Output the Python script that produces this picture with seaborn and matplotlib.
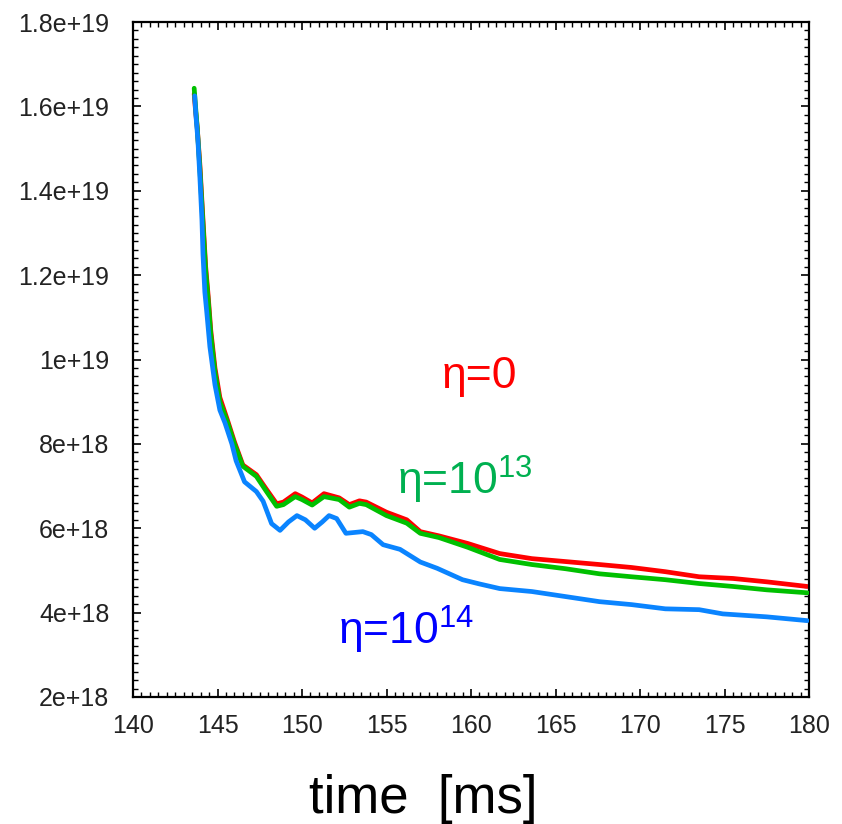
import numpy as np
import pandas as pd
import matplotlib
matplotlib.use("Agg")
import matplotlib.pyplot as plt
import seaborn as sns
from matplotlib.ticker import MultipleLocator

# ---- data (time in ms, density in units of 1e18) ----
t_blue = [143.65, 143.72, 143.84, 143.96, 144.08, 144.14, 144.25, 144.37, 144.55, 144.85,
          145.14, 145.44, 145.85, 146.1, 146.6, 147.3, 147.7, 148.2, 148.7, 149.2,
          149.7, 150.2, 150.75, 151.2, 151.6, 152.05, 152.6, 153.1, 153.6, 154.1,
          154.8, 155.8, 157.0, 158.0, 159.5, 160.5, 161.7, 163.6, 165.6, 167.6,
          169.5, 171.5, 173.5, 174.9, 177.5, 179.9]
v_blue = [16.25, 15.8, 15.2, 14.3, 13.3, 12.5, 11.6, 11.1, 10.3, 9.4,
          8.8, 8.5, 8.0, 7.6, 7.1, 6.87, 6.64, 6.11, 5.95, 6.15,
          6.3, 6.2, 6.0, 6.15, 6.3, 6.23, 5.88, 5.9, 5.92, 5.85,
          5.61, 5.5, 5.2, 5.05, 4.78, 4.68, 4.57, 4.5, 4.38, 4.26,
          4.19, 4.09, 4.07, 3.97, 3.9, 3.81]

t_rg = [143.62, 143.7, 143.8, 143.96, 144.1, 144.2, 144.3, 144.45, 144.6, 144.85,
        145.14, 145.6, 146.0, 146.5, 147.3, 147.9, 148.5, 148.9, 149.6, 150.0,
        150.6, 151.3, 152.2, 152.8, 153.4, 153.8, 155.0, 156.2, 157.0, 158.1,
        159.8, 161.7, 163.6, 165.6, 167.6, 169.5, 171.5, 173.5, 175.5, 177.5, 179.9]
v_green = [16.43, 16.0, 15.5, 14.5, 13.5, 12.8, 12.1, 11.4, 10.6, 9.7,
           9.0, 8.5, 8.0, 7.47, 7.23, 6.87, 6.52, 6.56, 6.75, 6.68,
           6.55, 6.75, 6.68, 6.5, 6.59, 6.56, 6.3, 6.12, 5.88, 5.78,
           5.55, 5.26, 5.14, 5.04, 4.92, 4.85, 4.78, 4.69, 4.62, 4.54, 4.47]
v_red = [16.3, 15.9, 15.5, 14.6, 13.6, 12.9, 12.2, 11.5, 10.7, 9.8,
         9.1, 8.55, 8.05, 7.5, 7.27, 6.92, 6.58, 6.62, 6.82, 6.74,
         6.6, 6.82, 6.72, 6.56, 6.65, 6.62, 6.38, 6.2, 5.92, 5.82,
         5.64, 5.4, 5.28, 5.21, 5.14, 5.07, 4.97, 4.85, 4.81, 4.73, 4.62]

x_ticks = [140, 145, 150, 155, 160, 165, 170, 175, 180]
y_ticks = [2, 4, 6, 8, 10, 12, 14, 16, 18]
y_labels = ["2e+18", "4e+18", "6e+18", "8e+18", "1e+19", "1.2e+19", "1.4e+19", "1.6e+19", "1.8e+19"]

scale = 1e18

sns.set_theme(style="white")
plt.rcParams['font.family'] = ['Liberation Sans', 'DejaVu Sans']
plt.rcParams['mathtext.fontset'] = 'custom'
plt.rcParams['mathtext.rm'] = 'Liberation Sans'
plt.rcParams['mathtext.it'] = 'Liberation Sans'
plt.rcParams['mathtext.default'] = 'regular'

fig = plt.figure(figsize=(8.42, 8.24), dpi=100)
ax = fig.add_axes([133/842, 1 - 697/824, (809-133)/842, (697-22)/824])

df_red = pd.DataFrame({"t": t_rg, "n": np.array(v_red) * scale})
df_green = pd.DataFrame({"t": t_rg, "n": np.array(v_green) * scale})
df_blue = pd.DataFrame({"t": t_blue, "n": np.array(v_blue) * scale})

sns.lineplot(data=df_red, x="t", y="n", ax=ax, color="#ff0000", lw=3.4, zorder=2)
sns.lineplot(data=df_green, x="t", y="n", ax=ax, color="#00c000", lw=3.4, zorder=3)
sns.lineplot(data=df_blue, x="t", y="n", ax=ax, color="#0a84ff", lw=3.4, zorder=4)

ax.set_xlim(140, 180)
ax.set_ylim(2e18, 1.8e19)
ax.set_xticks(x_ticks)
ax.set_xticklabels([str(v) for v in x_ticks], fontsize=18, color='#222222')
ax.set_yticks([v * scale for v in y_ticks])
ax.set_yticklabels(y_labels, fontsize=18, color='#222222')
ax.xaxis.set_minor_locator(MultipleLocator(0.5))
ax.yaxis.set_minor_locator(MultipleLocator(2e17))

ax.tick_params(which='both', direction='in', top=True, right=True, left=True, bottom=True,
               color='black')
ax.tick_params(which='major', length=6, width=1.2)
ax.tick_params(which='minor', length=3.5, width=1.0)
ax.tick_params(axis='y', which='major', pad=17)
ax.tick_params(axis='x', which='major', pad=12)

for s in ax.spines.values():
    s.set_color('black')
    s.set_linewidth(1.6)

ax.set_xlabel("")
ax.set_ylabel("")

ax.text(158.26, 9.32e18, "η=0", color="#ff0000", fontsize=32)
ax.text(155.6, 6.80e18, "η=10$^{13}$", color="#00b050", fontsize=32)
ax.text(152.11, 3.24e18, "η=10$^{14}$", color="#0000ff", fontsize=32)

fig.text(0.503, (824 - 813) / 824, "time  [ms]", ha='center', va='baseline',
         fontsize=38, color='black')

fig.savefig("out.png", dpi=100)
